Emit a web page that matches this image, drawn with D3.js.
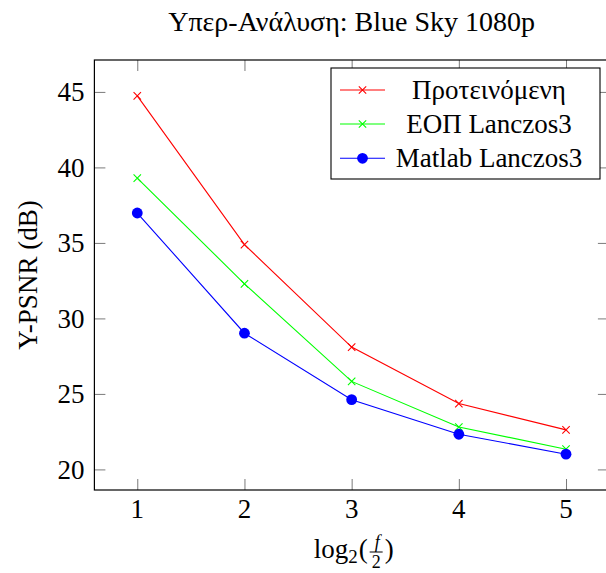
<!DOCTYPE html>
<html>
<head>
<meta charset="utf-8">
<script src="https://cdn.jsdelivr.net/npm/d3@7"></script>
<style>
  body { margin: 0; background: #fff; }
  svg { display: block; }
  text { font-family: "Liberation Serif", "Times New Roman", serif; fill: #000; }
</style>
</head>
<body>
<svg id="chart" width="606" height="573"></svg>
<script>
// Upscaling factor exponent (log2(f/2)) and Y-PSNR in dB for each method
const scaleFactors = [1, 2, 3, 4, 5];
const proposed = [44.74, 34.89, 28.10, 24.36, 22.62];
const eopLanczos = [39.29, 32.29, 25.83, 22.81, 21.34];
const matlabLanczos = [36.98, 29.02, 24.62, 22.33, 21.01];
const seriesNames = ["Προτεινόμενη", "ΕΟΠ Lanczos3", "Matlab Lanczos3"];
const xTicks = [1, 2, 3, 4, 5];
const yTicks = [20, 25, 30, 35, 40, 45];
const titleText = "Υπερ-Ανάλυση: Blue Sky 1080p";
const yLabelText = "Y-PSNR (dB)";

const svg = d3.select("#chart");
const FS = 27;
const plot = { left: 94.4, right: 608.9, top: 60, bottom: 490 };

const series = [
  { name: seriesNames[0], values: proposed, color: "#ff0000", mark: "cross" },
  { name: seriesNames[1], values: eopLanczos, color: "#00ff00", mark: "cross" },
  { name: seriesNames[2], values: matlabLanczos, color: "#0000ff", mark: "circle" }
];

// axis limits enlarged by 10% of the data range on each side
const xMin = d3.min(scaleFactors), xMax = d3.max(scaleFactors);
const xPad = (xMax - xMin) * 0.1;
const allY = series.flatMap(s => s.values);
const yMin = d3.min(allY), yMax = d3.max(allY);
const yPad = (yMax - yMin) * 0.1;

const x = d3.scaleLinear().domain([xMin - xPad, xMax + xPad]).range([plot.left, plot.right]);
const y = d3.scaleLinear().domain([yMin - yPad, yMax + yPad]).range([plot.bottom, plot.top]);

const tickLen = 11;
const tickColor = "#7a7a7a";

// inward ticks on all four sides
const bottomAxis = d3.axisBottom(x).tickValues(xTicks).tickSize(-tickLen).tickFormat("");
const topAxis = d3.axisTop(x).tickValues(xTicks).tickSize(-tickLen).tickFormat("");
const leftAxis = d3.axisLeft(y).tickValues(yTicks).tickSize(-tickLen).tickFormat("");
const rightAxis = d3.axisRight(y).tickValues(yTicks).tickSize(-tickLen).tickFormat("");

function styleTicks(g) {
  g.select(".domain").remove();
  g.selectAll(".tick line").attr("stroke", tickColor).attr("stroke-width", 1);
}
svg.append("g").attr("transform", `translate(0,${plot.bottom})`).call(bottomAxis).call(styleTicks);
svg.append("g").attr("transform", `translate(0,${plot.top})`).call(topAxis).call(styleTicks);
svg.append("g").attr("transform", `translate(${plot.left},0)`).call(leftAxis).call(styleTicks);
svg.append("g").attr("transform", `translate(${plot.right},0)`).call(rightAxis).call(styleTicks);

// tick labels
svg.append("g").selectAll("text").data(xTicks).join("text")
  .attr("x", d => x(d)).attr("y", 518)
  .attr("text-anchor", "middle").attr("font-size", FS)
  .text(d => d);
svg.append("g").selectAll("text").data(yTicks).join("text")
  .attr("x", plot.left - 10).attr("y", d => y(d)).attr("dy", "0.34em")
  .attr("text-anchor", "end").attr("font-size", FS)
  .text(d => d);

// data lines and markers
const line = d3.line().x((d, i) => x(scaleFactors[i])).y(d => y(d));
const crossSize = 3.7;
function drawMark(g, mark, color, cx, cy) {
  if (mark === "circle") {
    g.append("circle").attr("cx", cx).attr("cy", cy).attr("r", 5.4).attr("fill", color);
  } else {
    g.append("path")
      .attr("d", `M${cx - crossSize},${cy - crossSize}L${cx + crossSize},${cy + crossSize}M${cx - crossSize},${cy + crossSize}L${cx + crossSize},${cy - crossSize}`)
      .attr("stroke", color).attr("stroke-width", 1.1).attr("fill", "none");
  }
}
series.forEach(s => {
  const g = svg.append("g");
  g.append("path").datum(s.values).attr("d", line)
    .attr("fill", "none").attr("stroke", s.color).attr("stroke-width", 1.1);
  s.values.forEach((v, i) => drawMark(g, s.mark, s.color, x(scaleFactors[i]), y(v)));
});

// frame
svg.append("rect")
  .attr("x", plot.left).attr("y", plot.top)
  .attr("width", plot.right - plot.left).attr("height", plot.bottom - plot.top)
  .attr("fill", "none").attr("stroke", "#000").attr("stroke-width", 1.2);

// legend
const legend = { x: 331, y: 68, w: 269, h: 111, rowY: [90, 124, 158.3] };
const lg = svg.append("g");
lg.append("rect").attr("x", legend.x).attr("y", legend.y)
  .attr("width", legend.w).attr("height", legend.h)
  .attr("fill", "#fff").attr("stroke", "#000").attr("stroke-width", 1.1);
series.forEach((s, i) => {
  const ry = legend.rowY[i];
  lg.append("line").attr("x1", 340).attr("x2", 385).attr("y1", ry).attr("y2", ry)
    .attr("stroke", s.color).attr("stroke-width", 1.1);
  drawMark(lg, s.mark, s.color, 362.5, ry);
  lg.append("text").attr("x", 489).attr("y", ry).attr("dy", "0.33em")
    .attr("text-anchor", "middle").attr("font-size", FS).text(s.name);
});

// title
svg.append("text").attr("x", (plot.left + plot.right) / 2).attr("y", 31)
  .attr("text-anchor", "middle").attr("font-size", 28).text(titleText);

// y axis label
svg.append("text")
  .attr("transform", `translate(37,${(plot.top + plot.bottom) / 2}) rotate(-90)`)
  .attr("text-anchor", "middle").attr("font-size", FS).text(yLabelText);

// x axis label: log_2(f/2) with a stacked fraction
const xl = svg.append("g");
const base = 558;
let cursor = 0;
function piece(str, opts) {
  const t = xl.append("text").attr("x", cursor + (opts.dx || 0)).attr("y", base + (opts.dy || 0))
    .attr("font-size", opts.size || FS).text(str);
  const w = t.node().getComputedTextLength();
  cursor += w + (opts.dx || 0);
  return t;
}
piece("log", {});
piece("2", { size: 19, dy: 5 });
piece("(", { dx: 1 });
const fSmall = 18;
const fracStart = cursor + 2;
const numer = xl.append("text").attr("y", base - 10).attr("font-size", fSmall)
  .attr("font-style", "italic").attr("text-anchor", "middle").text("f");
const denom = xl.append("text").attr("y", base + 10).attr("font-size", fSmall)
  .attr("text-anchor", "middle").text("2");
const fracW = Math.max(numer.node().getComputedTextLength(), denom.node().getComputedTextLength()) + 4;
const fracMid = fracStart + fracW / 2;
numer.attr("x", fracMid + 1);
denom.attr("x", fracMid);
xl.append("line").attr("x1", fracStart).attr("x2", fracStart + fracW)
  .attr("y1", base - 6).attr("y2", base - 6).attr("stroke", "#000").attr("stroke-width", 1);
cursor = fracStart + fracW + 2;
piece(")", {});
const totalW = cursor;
xl.attr("transform", `translate(${(plot.left + plot.right) / 2 - totalW / 2 + 2},0)`);
</script>
</body>
</html>
